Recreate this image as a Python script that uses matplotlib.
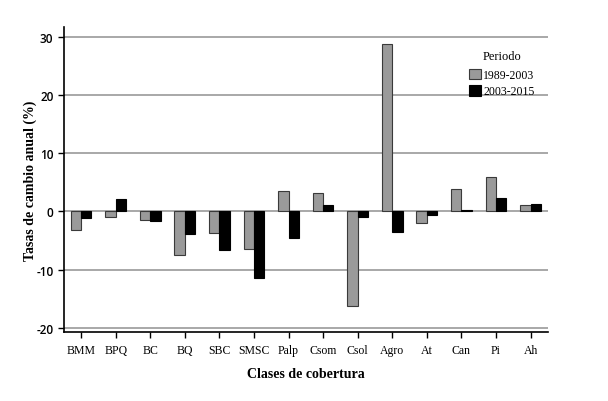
import numpy as np
import matplotlib
matplotlib.use('Agg')
import matplotlib.pyplot as plt

# tasas de cambio anual (%) por clase de cobertura
clases = ['BMM', 'BPQ', 'BC', 'BQ', 'SBC', 'SMSC', 'Palp', 'Csom', 'Csol',
          'Agro', 'At', 'Can', 'Pi', 'Ah']
p1989_2003 = [-3.1, -0.9, -1.4, -7.4, -3.7, -6.5, 3.6, 3.1, -16.3,
              28.8, -1.9, 3.8, 6.0, 1.1]
p2003_2015 = [-1.1, 2.2, -1.6, -3.8, -6.6, -11.5, -4.5, 1.1, -0.9,
              -3.6, -0.6, 0.2, 2.3, 1.3]
yticks = [-20, -10, 0, 10, 20, 30]

serif = 'Liberation Serif'

fig = plt.figure(figsize=(6.08, 4.02), dpi=100)
ax = fig.add_axes([0.105, 0.172, 0.796, 0.758])

x = np.arange(len(clases))
w = 0.3
ax.bar(x - w/2, p1989_2003, w, color='#9a9a9a', edgecolor='#3a3a3a',
       linewidth=0.8, label='1989-2003', zorder=3)
ax.bar(x + w/2, p2003_2015, w, color='black', edgecolor='black',
       linewidth=0.8, label='2003-2015', zorder=3)

for yv in yticks:
    ax.axhline(yv, color='#9a9a9a', linewidth=1.2, zorder=1)

ax.set_xlim(-0.5, len(clases) - 0.5)
ax.set_ylim(-20.7, 31.7)
ax.set_yticks(yticks)
ax.set_yticklabels([str(v) for v in yticks], fontsize=8.5, family='Open Sans',
                   fontweight='semibold')
ax.set_xticks(x)
ax.set_xticklabels(clases, fontsize=8.5, family=serif)
ax.tick_params(axis='both', direction='out', length=4, width=1, color='black')
ax.tick_params(axis='x', pad=5)

for s in ['top', 'right']:
    ax.spines[s].set_visible(False)
ax.spines['left'].set_linewidth(1.2)
ax.spines['bottom'].set_linewidth(1.2)

ax.set_xlabel('Clases de cobertura', fontsize=10, family=serif,
              fontweight='bold', labelpad=8)
ax.set_ylabel('Tasas de cambio anual (%)', fontsize=10, family=serif,
              fontweight='bold')
ax.yaxis.set_label_coords(-0.055, 0.5)

leg = ax.legend(title='Periodo', loc='upper right', bbox_to_anchor=(0.99, 0.953),
                frameon=False, prop={'family': serif, 'size': 8.5},
                handlelength=1.0, handleheight=1.0, handletextpad=0.2,
                labelspacing=0.35, borderpad=0.2)
leg.get_title().set_fontfamily(serif)
leg.get_title().set_fontsize(9)
leg._legend_box.sep = 5

fig.savefig('out.png', dpi=100)
